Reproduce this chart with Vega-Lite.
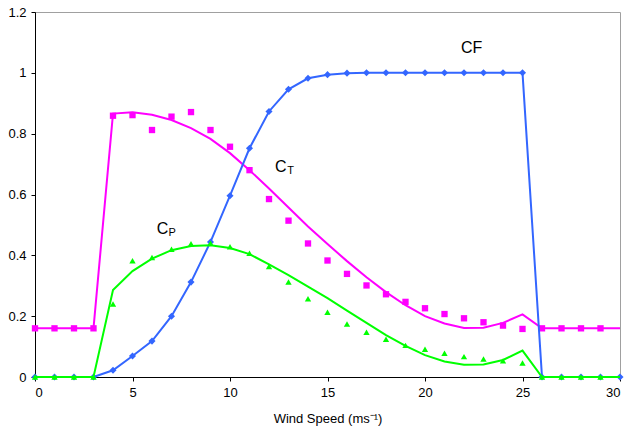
{
  "$schema": "https://vega.github.io/schema/vega-lite/v6.json",
  "width": 585,
  "height": 365,
  "autosize": {"type": "none"},
  "padding": {"left": 35, "top": 12, "right": 7, "bottom": 53},
  "background": "white",
  "config": {
    "view": {"stroke": "#a0a0a0", "strokeWidth": 1},
    "font": "Liberation Sans",
    "axis": {"grid": false, "domainColor": "black", "tickColor": "black", "labelColor": "black", "titleColor": "black", "labelFont": "Liberation Sans", "titleFont": "Liberation Sans", "labelFontSize": 13, "titleFontSize": 13, "titleFontWeight": "normal", "tickSize": 4, "domainWidth": 1}
  },
  "datasets": {
    "main": [
      {"ws": 0, "CF": 0, "CT": 0.16, "CTfit": 0.16, "CP": 0, "CPfit": 0},
      {"ws": 1, "CF": 0, "CT": 0.16, "CTfit": 0.16, "CP": 0, "CPfit": 0},
      {"ws": 2, "CF": 0, "CT": 0.16, "CTfit": 0.16, "CP": 0, "CPfit": 0},
      {"ws": 3, "CF": 0, "CT": 0.16, "CTfit": 0.16, "CP": 0, "CPfit": 0},
      {"ws": 4, "CF": 0.022, "CT": 0.859, "CTfit": 0.866, "CP": 0.24, "CPfit": 0.286},
      {"ws": 5, "CF": 0.069, "CT": 0.861, "CTfit": 0.87, "CP": 0.382, "CPfit": 0.348},
      {"ws": 6, "CF": 0.118, "CT": 0.812, "CTfit": 0.862, "CP": 0.393, "CPfit": 0.389},
      {"ws": 7, "CF": 0.2, "CT": 0.856, "CTfit": 0.845, "CP": 0.42, "CPfit": 0.417},
      {"ws": 8, "CF": 0.312, "CT": 0.871, "CTfit": 0.818, "CP": 0.438, "CPfit": 0.431},
      {"ws": 9, "CF": 0.444, "CT": 0.812, "CTfit": 0.783, "CP": 0.44, "CPfit": 0.433},
      {"ws": 10, "CF": 0.596, "CT": 0.757, "CTfit": 0.736, "CP": 0.428, "CPfit": 0.424},
      {"ws": 11, "CF": 0.752, "CT": 0.68, "CTfit": 0.68, "CP": 0.407, "CPfit": 0.404},
      {"ws": 12, "CF": 0.873, "CT": 0.585, "CTfit": 0.62, "CP": 0.363, "CPfit": 0.37},
      {"ws": 13, "CF": 0.946, "CT": 0.514, "CTfit": 0.557, "CP": 0.312, "CPfit": 0.335},
      {"ws": 14, "CF": 0.982, "CT": 0.439, "CTfit": 0.495, "CP": 0.257, "CPfit": 0.297},
      {"ws": 15, "CF": 0.994, "CT": 0.383, "CTfit": 0.437, "CP": 0.213, "CPfit": 0.259},
      {"ws": 16, "CF": 0.999, "CT": 0.339, "CTfit": 0.381, "CP": 0.174, "CPfit": 0.218},
      {"ws": 17, "CF": 1, "CT": 0.301, "CTfit": 0.328, "CP": 0.147, "CPfit": 0.178},
      {"ws": 18, "CF": 1, "CT": 0.272, "CTfit": 0.279, "CP": 0.124, "CPfit": 0.138},
      {"ws": 19, "CF": 1, "CT": 0.247, "CTfit": 0.236, "CP": 0.104, "CPfit": 0.102},
      {"ws": 20, "CF": 1, "CT": 0.226, "CTfit": 0.2, "CP": 0.091, "CPfit": 0.072},
      {"ws": 21, "CF": 1, "CT": 0.207, "CTfit": 0.176, "CP": 0.078, "CPfit": 0.051},
      {"ws": 22, "CF": 1, "CT": 0.193, "CTfit": 0.161, "CP": 0.067, "CPfit": 0.04},
      {"ws": 23, "CF": 1, "CT": 0.18, "CTfit": 0.162, "CP": 0.059, "CPfit": 0.041},
      {"ws": 24, "CF": 1, "CT": 0.169, "CTfit": 0.178, "CP": 0.053, "CPfit": 0.056},
      {"ws": 25, "CF": 1, "CT": 0.158, "CTfit": 0.206, "CP": 0.046, "CPfit": 0.087},
      {"ws": 26, "CF": 0, "CT": 0.16, "CTfit": 0.16, "CP": 0, "CPfit": 0},
      {"ws": 27, "CF": 0, "CT": 0.16, "CTfit": 0.16, "CP": 0, "CPfit": 0},
      {"ws": 28, "CF": 0, "CT": 0.16, "CTfit": 0.16, "CP": 0, "CPfit": 0},
      {"ws": 29, "CF": 0, "CT": 0.16, "CTfit": 0.16, "CP": 0, "CPfit": 0},
      {"ws": 30, "CF": 0, "CT": null, "CTfit": 0.16, "CP": null, "CPfit": 0}
    ],
    "labels": [
      {"x": 22.39, "y": 1.081, "t": "CF"},
      {"x": 12.6, "y": 0.691, "t": "C"},
      {"x": 6.54, "y": 0.487, "t": "C"}
    ],
    "subs": [
      {"x": 13.11, "y": 0.677, "t": "T"},
      {"x": 7.03, "y": 0.474, "t": "P"}
    ]
  },
  "data": {"name": "main"},
  "encoding": {
    "x": {"field": "ws", "type": "quantitative", "scale": {"domain": [0, 30], "nice": false}, "axis": {"values": [0, 5, 10, 15, 20, 25, 30], "title": "Wind Speed (ms⁻¹)", "titlePadding": 13, "labelPadding": 5}}
  },
  "layer": [
    {"mark": {"type": "line", "color": "#FF00FF", "strokeWidth": 2}, "encoding": {"y": {"field": "CTfit", "type": "quantitative", "scale": {"domain": [0, 1.2], "nice": false}, "axis": {"values": [0, 0.2, 0.4, 0.6, 0.8, 1, 1.2], "format": "~g", "title": null, "labelPadding": 5}}}},
    {"mark": {"type": "point", "shape": "square", "filled": true, "color": "#FF00FF", "size": 40, "opacity": 1}, "encoding": {"y": {"field": "CT", "type": "quantitative"}}},
    {"mark": {"type": "line", "color": "#3366FF", "strokeWidth": 2}, "encoding": {"y": {"field": "CF", "type": "quantitative"}}},
    {"mark": {"type": "point", "shape": "diamond", "filled": true, "color": "#3366FF", "size": 50, "opacity": 1}, "encoding": {"y": {"field": "CF", "type": "quantitative"}}},
    {"mark": {"type": "line", "color": "#00FF00", "strokeWidth": 2}, "encoding": {"y": {"field": "CPfit", "type": "quantitative"}}},
    {"mark": {"type": "point", "shape": "triangle-up", "filled": true, "color": "#00FF00", "size": 40, "opacity": 1}, "encoding": {"y": {"field": "CP", "type": "quantitative"}}},
    {"data": {"name": "labels"}, "mark": {"type": "text", "fontSize": 16, "font": "Liberation Sans", "align": "center", "baseline": "middle", "color": "black"}, "encoding": {"x": {"field": "x", "type": "quantitative"}, "y": {"field": "y", "type": "quantitative"}, "text": {"field": "t"}}},
    {"data": {"name": "subs"}, "mark": {"type": "text", "fontSize": 11, "font": "Liberation Sans", "align": "center", "baseline": "middle", "color": "black"}, "encoding": {"x": {"field": "x", "type": "quantitative"}, "y": {"field": "y", "type": "quantitative"}, "text": {"field": "t"}}}
  ]
}
